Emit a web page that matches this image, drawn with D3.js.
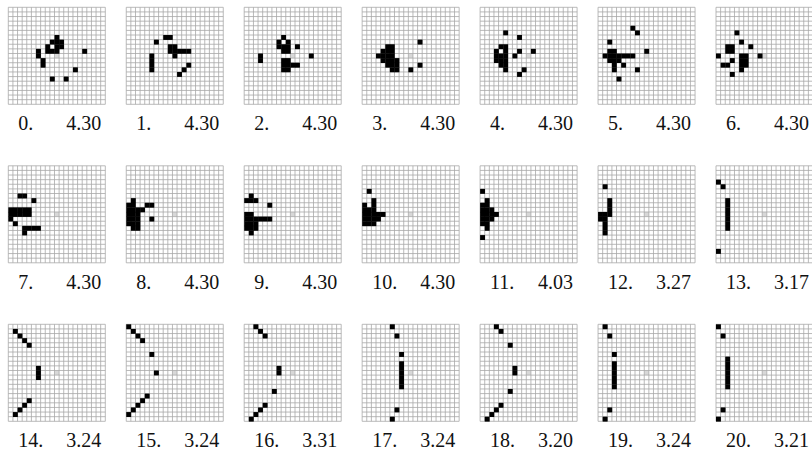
<!DOCTYPE html>
<html><head><meta charset="utf-8">
<script src="https://cdn.jsdelivr.net/npm/d3@7"></script>
<style>html,body{margin:0;padding:0;background:#fff;overflow:hidden}</style>
</head><body>
<svg id="chart" width="812" height="452"></svg>
<script>
const labels = ["0.","1.","2.","3.","4.","5.","6.","7.","8.","9.","10.","11.","12.","13.","14.","15.","16.","17.","18.","19.","20."];
const values = ["4.30","4.30","4.30","4.30","4.30","4.30","4.30","4.30","4.30","4.30","4.30","4.03","3.27","3.17","3.24","3.24","3.31","3.24","3.20","3.24","3.21"];
const gridSize = 21;
const centerCell = [10, 10];
// black cells per panel as [col,row]
const cells = [
 [[10,6],[9,7],[10,7],[11,7],[8,8],[10,8],[11,8],[6,9],[8,9],[9,9],[10,9],[6,10],[7,11],[7,12],[16,9],[14,13],[9,15],[12,15]],
 [[8,6],[9,6],[6,7],[9,8],[10,8],[9,9],[10,9],[11,9],[12,9],[13,9],[10,10],[5,10],[5,11],[5,12],[5,13],[13,12],[12,13],[11,14]],
 [[3,10],[3,11],[8,6],[7,7],[9,7],[7,8],[8,8],[9,8],[11,8],[8,9],[9,9],[14,10],[8,11],[9,11],[8,12],[9,12],[10,12],[11,12],[8,13],[9,13]],
 [[5,8],[6,8],[4,9],[5,9],[6,9],[3,10],[4,10],[5,10],[6,10],[4,11],[5,11],[6,11],[7,11],[5,12],[6,12],[7,12],[6,13],[7,13],[12,7],[12,12],[10,13]],
 [[5,5],[8,6],[4,8],[5,8],[3,9],[5,9],[3,10],[4,10],[5,10],[3,11],[4,11],[5,11],[4,12],[5,12],[5,13],[8,9],[7,10],[11,9],[9,13],[8,14]],
 [[7,4],[8,5],[2,7],[10,9],[2,9],[3,9],[1,10],[2,10],[3,10],[4,10],[5,10],[6,10],[7,10],[2,11],[3,11],[4,11],[3,12],[5,12],[3,13],[8,13],[4,15]],
 [[4,5],[5,7],[2,8],[3,8],[2,9],[3,9],[7,8],[0,10],[9,10],[5,10],[6,10],[5,11],[6,11],[5,12],[6,12],[5,13],[3,11],[1,12],[2,12],[3,14]],
 [[2,6],[3,6],[5,7],[0,9],[1,9],[2,9],[3,9],[4,9],[0,10],[1,10],[2,10],[3,10],[4,10],[0,11],[1,12],[3,13],[4,13],[5,13],[6,13],[3,14]],
 [[1,7],[0,8],[1,8],[0,9],[1,9],[2,9],[0,10],[1,10],[2,10],[0,11],[1,11],[2,11],[0,12],[1,12],[2,12],[1,13],[2,13],[4,8],[5,8],[3,9],[5,11]],
 [[1,6],[0,7],[1,7],[2,7],[5,8],[0,10],[1,10],[0,11],[1,11],[2,11],[3,11],[4,11],[5,11],[0,12],[1,12],[2,12],[0,13],[1,13],[2,13],[1,14]],
 [[1,5],[2,7],[0,8],[2,8],[0,9],[1,9],[2,9],[0,10],[1,10],[2,10],[3,10],[4,10],[0,11],[1,11],[2,11],[3,11],[0,12],[1,12],[2,12]],
 [[0,5],[1,7],[0,8],[1,8],[0,9],[1,9],[2,9],[0,10],[1,10],[2,10],[3,10],[0,11],[1,11],[2,11],[0,12],[1,12],[1,13],[0,15]],
 [[1,4],[2,7],[2,8],[2,9],[2,10],[0,10],[1,10],[0,11],[1,11],[1,12],[1,13],[1,14]],
 [[0,3],[1,4],[2,7],[2,8],[2,9],[2,10],[2,11],[2,12],[2,13],[0,18]],
 [[1,1],[2,2],[3,3],[4,4],[6,9],[6,10],[6,11],[4,16],[3,17],[2,18],[1,19]],
 [[0,0],[1,1],[2,2],[3,3],[5,6],[6,10],[4,15],[3,16],[2,17],[1,18],[0,19]],
 [[2,0],[3,1],[4,2],[7,9],[7,10],[6,14],[4,17],[3,18],[2,19],[1,20]],
 [[6,0],[7,2],[8,6],[8,8],[8,9],[8,10],[8,11],[8,12],[8,13],[7,18],[6,20]],
 [[3,0],[4,1],[6,4],[7,9],[7,10],[6,14],[4,17],[3,18],[2,19],[1,20]],
 [[1,0],[2,2],[3,6],[3,8],[3,9],[3,10],[3,11],[3,12],[3,13],[2,18],[1,20]],
 [[0,0],[1,2],[2,7],[2,8],[2,9],[2,10],[2,11],[2,12],[2,13],[1,18],[0,20]]
];

const svg = d3.select("#chart");
const perRow = 7;
const panelX = d3.scaleLinear().domain([0, 6]).range([8.3, 716]);
const panelY = d3.scaleLinear().domain([0, 2]).range([7.3, 324.3]);
const cell = d3.scaleLinear().domain([0, gridSize]).range([0, 97]);

const panels = svg.selectAll("g.panel").data(d3.range(labels.length)).join("g")
  .attr("class", "panel")
  .attr("transform", i => `translate(${panelX(i % perRow)},${panelY(Math.floor(i / perRow))})`);

panels.append("rect").attr("x", 0).attr("y", 0)
  .attr("width", cell(gridSize)).attr("height", cell(gridSize)).attr("fill", "#fff");

// center marker
panels.append("rect")
  .attr("x", cell(centerCell[0])).attr("y", cell(centerCell[1]))
  .attr("width", cell(1)).attr("height", cell(1)).attr("fill", "#d8d8d8");

const lines = d3.range(gridSize + 1);
panels.each(function () {
  const g = d3.select(this);
  g.selectAll("line.v").data(lines).join("line").attr("class", "v")
    .attr("x1", d => cell(d)).attr("x2", d => cell(d))
    .attr("y1", 0).attr("y2", cell(gridSize))
    .attr("stroke", "#a8a8a8").attr("stroke-width", 0.8);
  g.selectAll("line.h").data(lines).join("line").attr("class", "h")
    .attr("y1", d => cell(d)).attr("y2", d => cell(d))
    .attr("x1", 0).attr("x2", cell(gridSize))
    .attr("stroke", "#a8a8a8").attr("stroke-width", 0.8);
});

panels.each(function (i) {
  d3.select(this).selectAll("rect.on").data(cells[i]).join("rect").attr("class", "on")
    .attr("x", d => cell(d[0])).attr("y", d => cell(d[1]))
    .attr("width", cell(1) + 0.3).attr("height", cell(1) + 0.3)
    .attr("fill", "#000");
});

panels.append("text")
  .attr("x", 10).attr("y", 123)
  .attr("font-family", "'Liberation Serif', 'DejaVu Serif', serif")
  .attr("font-size", 20).attr("fill", "#111")
  .text(i => labels[i]);
panels.append("text")
  .attr("x", 93).attr("y", 123).attr("text-anchor", "end")
  .attr("font-family", "'Liberation Serif', 'DejaVu Serif', serif")
  .attr("font-size", 20).attr("fill", "#111")
  .text(i => values[i]);
</script>
</body></html>
